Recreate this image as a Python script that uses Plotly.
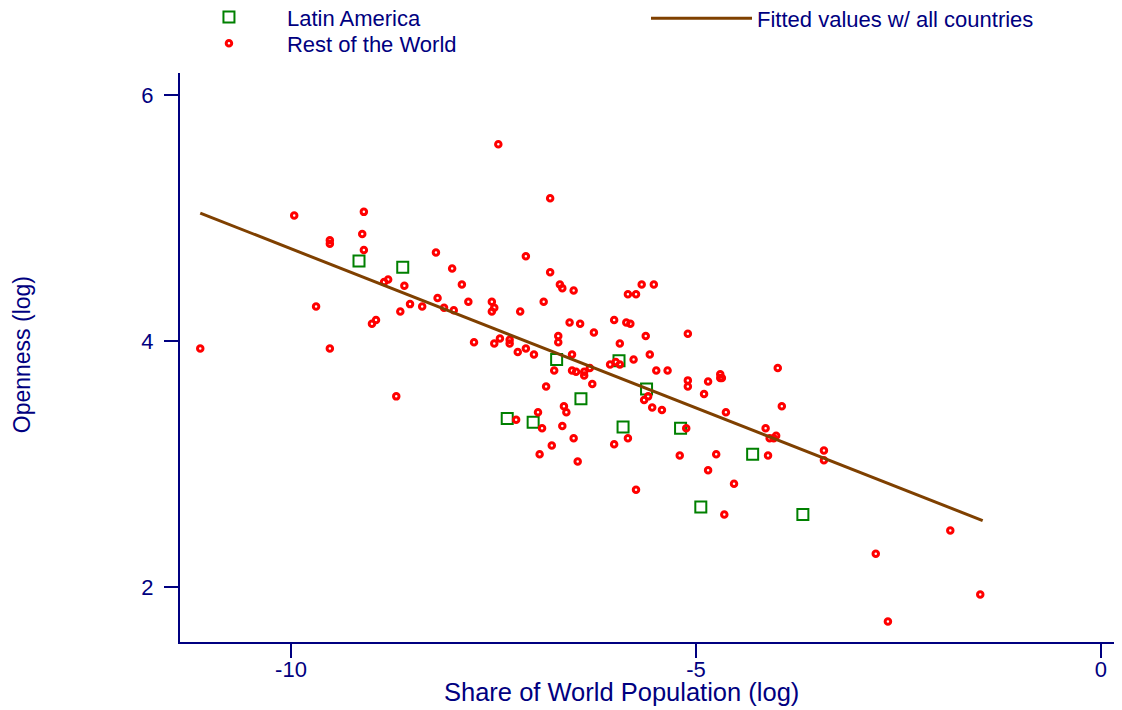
import plotly.graph_objects as go

# ---- data ----
la_x = [-9.16, -8.62, -6.72, -5.95, -6.42, -5.61, -7.33, -7.01, -5.90, -5.19, -4.30, -4.94, -3.68]
la_y = [4.65, 4.60, 3.85, 3.84, 3.53, 3.61, 3.37, 3.34, 3.30, 3.29, 3.08, 2.65, 2.59]

row_x = [-11.12, -9.96, -9.69, -9.52, -9.52, -9.52, -9.12, -9.10, -9.10, -9.00,
         -8.95, -8.85, -8.80, -8.70, -8.65, -8.60, -8.53, -8.38, -8.21, -8.19,
         -8.11, -8.01, -7.99, -7.89, -7.81, -7.74, -7.52, -7.49, -7.52, -7.49,
         -7.44, -7.42, -7.30, -7.30, -7.20, -7.17, -7.10, -7.10, -7.00, -6.88,
         -6.80, -6.80, -6.70, -6.70, -6.68, -6.65, -6.56, -6.53, -6.51, -6.43,
         -6.26, -6.01, -5.94, -5.86, -5.84, -5.81, -5.77, -5.74, -5.67, -5.62,
         -5.57, -5.52, -6.75, -6.53, -6.48, -6.38, -6.38, -6.31, -6.06, -5.99,
         -5.94, -5.49, -5.35, -5.10, -5.10, -5.10, -4.85, -4.70, -4.70, -4.68,
         -4.90, -4.63, -6.85, -6.28, -5.64, -5.59, -5.54, -5.42, -6.63, -6.60,
         -6.95, -7.22, -6.90, -6.65, -6.51, -5.84, -6.01, -5.12, -6.78, -6.93,
         -6.46, -5.20, -4.75, -4.85, -4.53, -5.74, -3.99, -3.94, -4.14, -4.09,
         -4.04, -4.01, -3.42, -3.42, -4.11, -4.65, -1.86, -2.78, -1.49, -2.63]
row_y = [3.94, 5.02, 4.28, 4.82, 4.79, 3.94, 4.87, 5.05, 4.74, 4.14,
         4.17, 4.48, 4.50, 3.55, 4.24, 4.45, 4.30, 4.28, 4.72, 4.35,
         4.27, 4.59, 4.25, 4.46, 4.32, 3.99, 4.32, 4.27, 4.24, 3.98,
         5.60, 4.02, 4.01, 3.98, 3.91, 4.24, 4.69, 3.94, 3.89, 4.32,
         5.16, 4.56, 4.04, 3.99, 4.46, 4.43, 4.15, 3.89, 4.41, 4.14,
         4.07, 4.17, 3.98, 4.15, 4.38, 4.14, 3.85, 4.38, 4.46, 4.04,
         3.89, 4.46, 3.76, 3.76, 3.75, 3.75, 3.72, 3.78, 3.81, 3.83,
         3.81, 3.76, 3.76, 4.06, 3.68, 3.63, 3.67, 3.73, 3.70, 3.70,
         3.57, 3.42, 3.63, 3.65, 3.52, 3.55, 3.46, 3.44, 3.47, 3.42,
         3.42, 3.36, 3.29, 3.31, 3.21, 3.21, 3.16, 3.29, 3.15, 3.08,
         3.02, 3.07, 3.08, 2.95, 2.84, 2.79, 3.78, 3.47, 3.29, 3.21,
         3.21, 3.23, 3.11, 3.03, 3.07, 2.59, 2.46, 2.27, 1.94, 1.72]

fit_x = [-11.12, -1.46]
fit_y = [5.04, 2.54]

x_ticks = [-10, -5, 0]
x_ticklabels = ["-10", "-5", "0"]
y_ticks = [2, 4, 6]
y_ticklabels = ["2", "4", "6"]

x_title = "Share of World Population (log)"
y_title = "Openness (log)"

assert len(row_x) == len(row_y)
assert len(la_x) == len(la_y)

NAVY = "#000080"
FONT = "Liberation Sans, Arial, sans-serif"

fig = go.Figure()
fig.add_trace(go.Scatter(
    x=la_x, y=la_y, mode="markers", name="Latin America", showlegend=True,
    marker=dict(symbol="square-open", size=11, color="#008000",
                line=dict(color="#008000", width=2)),
    legend="legend"))
fig.add_trace(go.Scatter(
    x=row_x, y=row_y, mode="markers", name="Rest of the World", showlegend=True,
    marker=dict(symbol="circle-open", size=5.5, color="#FF0000",
                line=dict(color="#FF0000", width=3)),
    legend="legend2"))
fig.add_trace(go.Scatter(
    x=fit_x, y=fit_y, mode="lines", name="Fitted values w/ all countries",
    showlegend=True,
    line=dict(color="#7F4000", width=3),
    legend="legend3"))

axis_common = dict(
    showline=True, linecolor=NAVY, linewidth=2,
    ticks="outside", ticklen=14, tickwidth=2, tickcolor=NAVY,
    showgrid=False, zeroline=False,
    tickfont=dict(family=FONT, size=22, color=NAVY),
)

legend_common = dict(xanchor="left", yanchor="middle", orientation="v",
                     bgcolor="rgba(0,0,0,0)", borderwidth=0, visible=True,
                     font=dict(family=FONT, size=22, color=NAVY))

# the page body has an 8px default margin; the figure is sized to fill
# the remaining window area exactly
fig.update_layout(
    width=1114, height=702,
    margin=dict(l=172, r=0, t=65, b=68, pad=0, autoexpand=False),
    paper_bgcolor="white", plot_bgcolor="white",
    font=dict(family=FONT, color=NAVY, size=21),
    hovermode=False,
    showlegend=True,
    xaxis=dict(range=[-11.37, 0.26], tickvals=x_ticks, ticktext=x_ticklabels,
               ticklabelstandoff=-7, **axis_common),
    yaxis=dict(range=[1.553, 6.179], tickvals=y_ticks, ticktext=y_ticklabels,
               ticklabelstandoff=6, **axis_common),
    legend=dict(x=-0.0096, y=1.098, itemwidth=106, **legend_common),
    legend2=dict(x=-0.0096, y=1.052, itemwidth=106, **legend_common),
    legend3=dict(x=0.4947, y=1.096, itemwidth=101, **legend_common),
    annotations=[
        dict(text=x_title, xref="paper", yref="paper", x=0.469, y=-0.0884,
             xanchor="center", yanchor="middle", showarrow=False,
             font=dict(family=FONT, size=25.5, color=NAVY)),
        dict(text=y_title, xref="paper", yref="paper", x=-0.1677, y=0.504,
             xanchor="center", yanchor="middle", textangle=-90, showarrow=False,
             font=dict(family=FONT, size=23, color=NAVY)),
    ],
)

fig.write_html("out.html")
